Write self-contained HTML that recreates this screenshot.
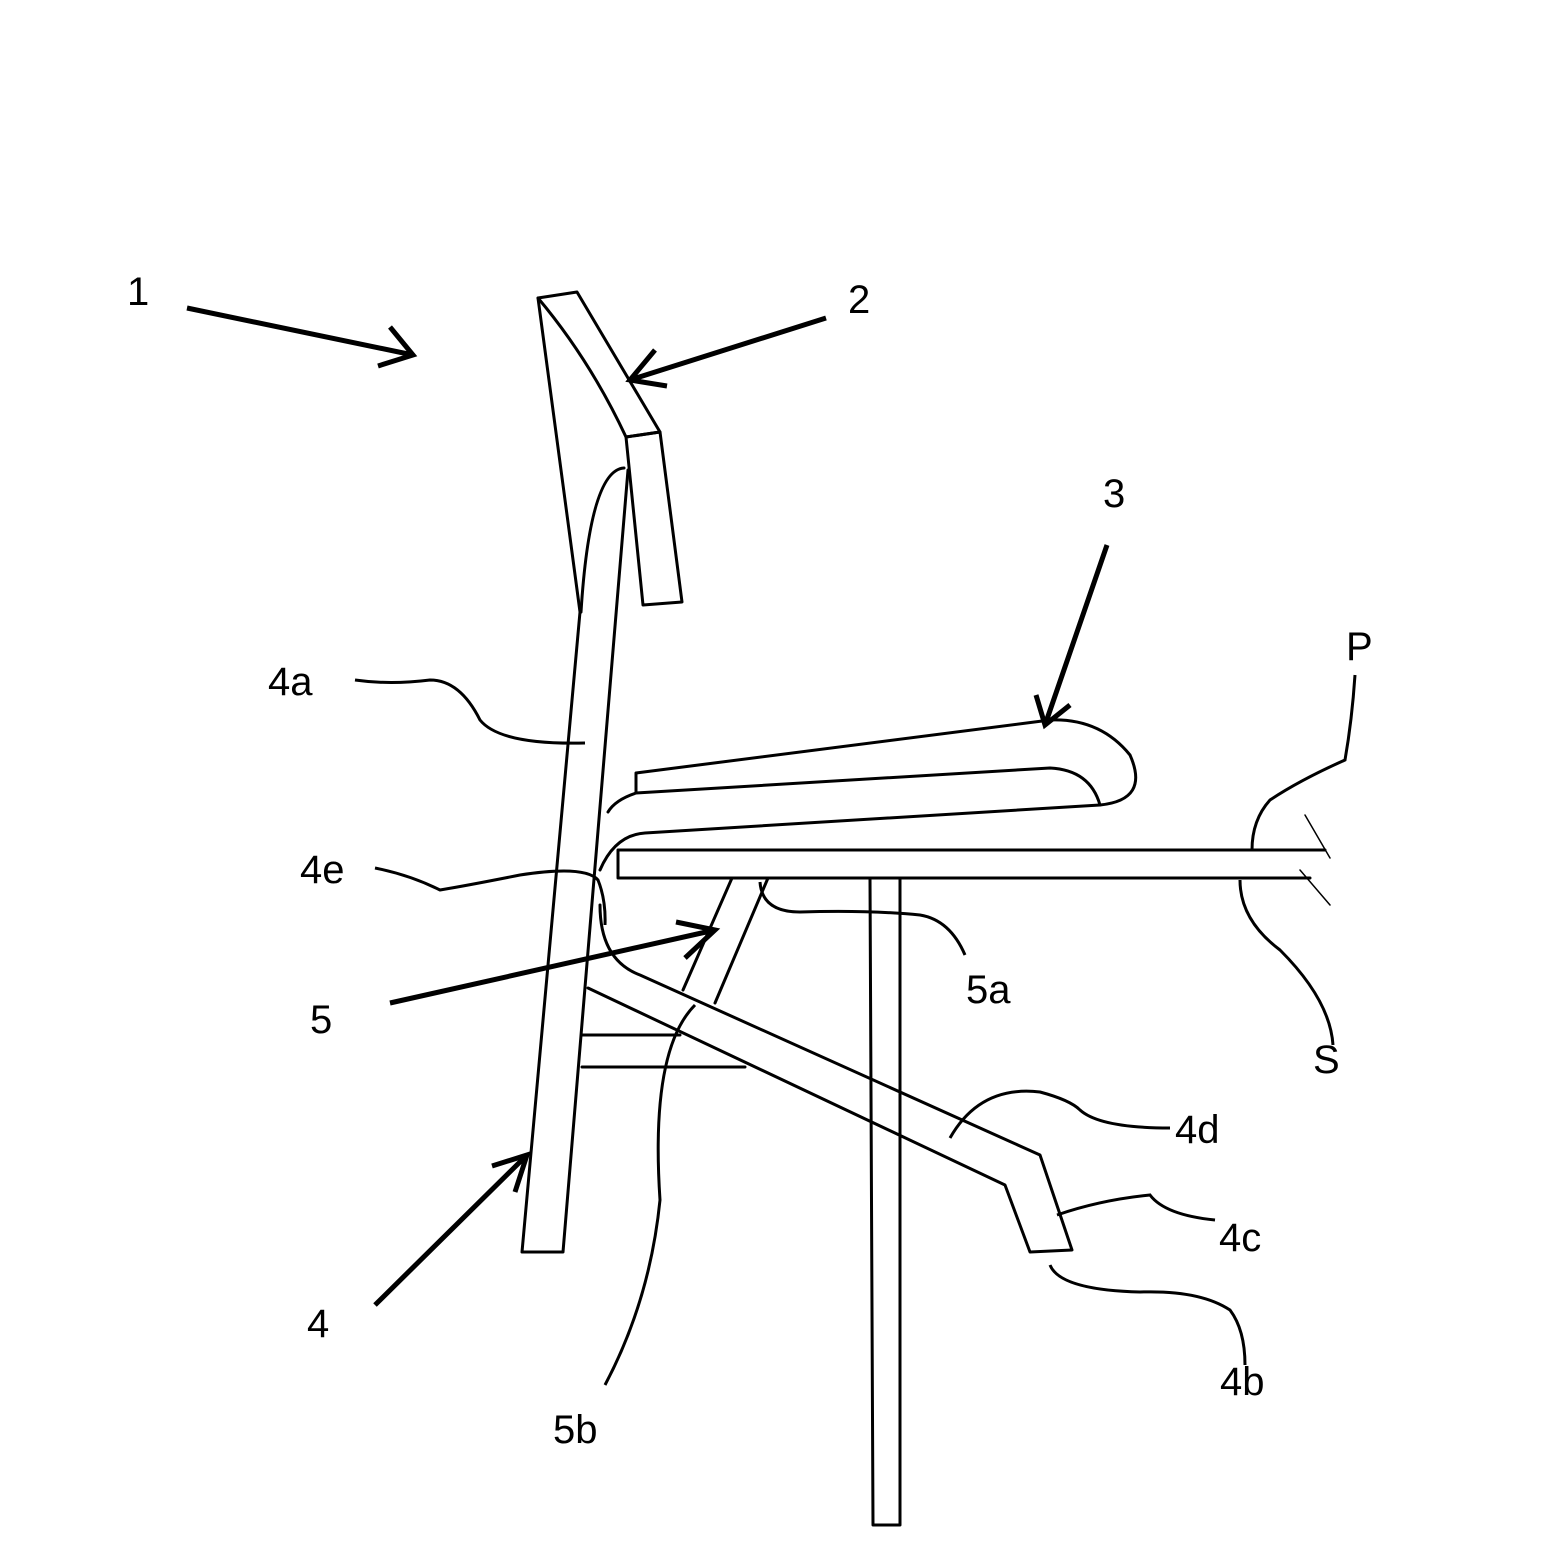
<!DOCTYPE html>
<html><head><meta charset="utf-8"><style>
html,body{margin:0;padding:0;background:#fff}
svg{display:block}
text{font-family:"Liberation Sans",sans-serif;font-size:40px;fill:#000}
</style></head><body>
<svg width="1561" height="1543" viewBox="0 0 1561 1543" xmlns="http://www.w3.org/2000/svg">
<g fill="none" stroke="#000" stroke-width="3" stroke-linejoin="round" stroke-linecap="round">
<!-- headrest -->
<path d="M538,298 L577,292 L660,432 L626,437 Q590,360 538,298 Z"/>
<path d="M626,437 L660,432 L682,602 L643,605 Z"/>
<!-- upright frame -->
<path d="M538,298 L580,612 L522,1252 L563,1252 L628,470"/>
<path d="M581,612 Q590,470 624,468"/>
<!-- seat cushion -->
<path d="M636,793 L636,773 L1050,720 Q1100,718 1130,755 Q1150,800 1100,805 Q1090,770 1050,768 L636,793"/>
<path d="M636,793 Q615,800 608,812"/>
<path d="M600,870 Q615,835 645,833 L1100,805"/>
<!-- plate P -->
<path d="M1325,850 L618,850 L618,878 L1310,878"/>
<path d="M1305,815 L1330,858 M1300,870 L1330,905" stroke-width="1.5"/>
<!-- leg -->
<path d="M870,878 L873,1525 L900,1525 L900,878"/>
<!-- arm 5 -->
<path d="M732,878 L683,990 M768,878 L715,1003"/>
<!-- frame 4d -->
<path d="M600,905 Q600,960 640,975 L1040,1155 L1072,1250 L1030,1252 L1005,1185 L588,988"/>
<!-- cross bars -->
<path d="M582,1035 L680,1035 M582,1067 L745,1067"/>
</g>
<!-- arrows -->
<g fill="none" stroke="#000" stroke-width="5" stroke-linecap="butt">
<path d="M187,308 L413,355 M378,366 L413,355 L390,327"/>
<path d="M826,318 L630,380 M655,350 L630,380 L667,386"/>
<path d="M1107,545 L1045,725 M1036,695 L1045,725 L1070,705"/>
<path d="M390,1003 L715,930 M676,922 L715,930 L685,958"/>
<path d="M375,1305 L527,1155 M492,1166 L527,1155 L515,1192"/>
</g>
<!-- leaders -->
<g fill="none" stroke="#000" stroke-width="3">
<path d="M355,680 Q390,685 430,680 Q460,680 480,720 Q500,745 585,743"/>
<path d="M375,868 Q410,875 440,890 Q470,885 520,875 Q585,865 598,880 Q606,900 605,925"/>
<path d="M760,882 Q762,912 800,912 Q870,910 920,915 Q950,920 965,955"/>
<path d="M605,1385 Q650,1300 660,1200 Q650,1050 695,1005"/>
<path d="M1240,880 Q1240,920 1280,950 Q1330,1000 1333,1045"/>
<path d="M1355,675 Q1352,720 1345,760 Q1300,780 1270,800 Q1252,820 1252,850"/>
<path d="M950,1138 Q980,1085 1040,1092 Q1070,1100 1080,1110 Q1100,1128 1170,1128"/>
<path d="M1057,1215 Q1100,1200 1150,1195 Q1165,1215 1215,1220"/>
<path d="M1050,1265 Q1060,1290 1140,1292 Q1200,1290 1230,1310 Q1245,1330 1245,1365"/>
</g>
<g>
<text x="127" y="305">1</text>
<text x="848" y="313">2</text>
<text x="1103" y="507">3</text>
<text x="1346" y="660">P</text>
<text x="268" y="695">4a</text>
<text x="300" y="883">4e</text>
<text x="310" y="1033">5</text>
<text x="966" y="1003">5a</text>
<text x="1313" y="1073">S</text>
<text x="1175" y="1143">4d</text>
<text x="1219" y="1251">4c</text>
<text x="307" y="1337">4</text>
<text x="1220" y="1395">4b</text>
<text x="553" y="1443">5b</text>
</g>
</svg>
</body></html>
